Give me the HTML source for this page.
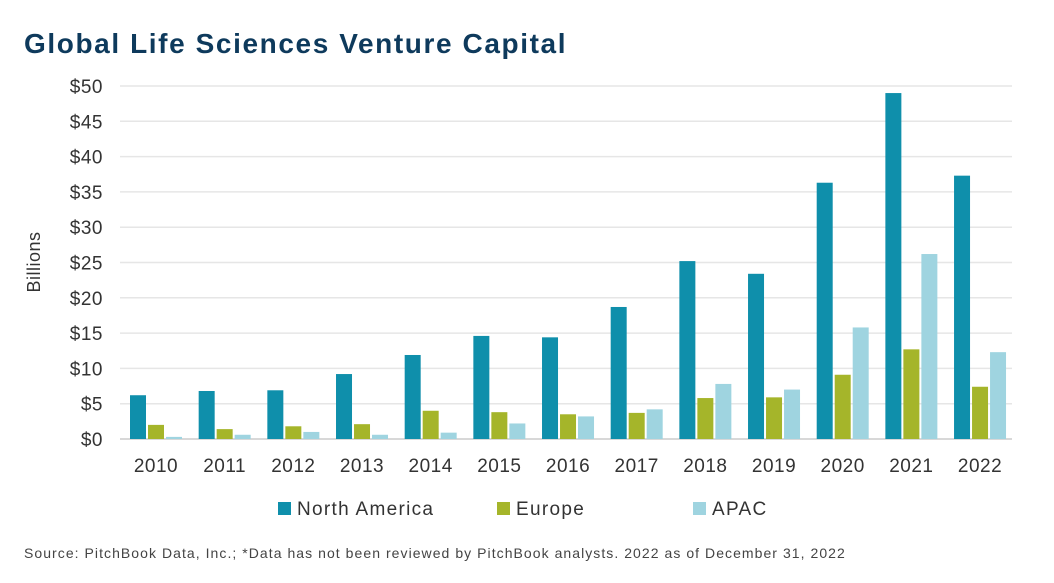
<!DOCTYPE html>
<html><head><meta charset="utf-8"><style>
body{margin:0;background:#fff;width:1054px;height:578px;overflow:hidden;font-family:"Liberation Sans",sans-serif}
</style></head><body>
<svg width="1054" height="578">
<text x="24" y="53" font-size="28" font-weight="bold" fill="#0e3a5c" letter-spacing="1.6">Global Life Sciences Venture Capital</text>
<g id="grid"></g><g id="bars"></g><g id="xl"></g>
<text transform="translate(40,262) rotate(-90)" text-anchor="middle" font-size="18" fill="#333" letter-spacing="0.5">Billions</text>
<g letter-spacing="1.3">
<rect x="278" y="502" width="13" height="13" fill="#0f8fab"/><text x="297" y="515" font-size="19" fill="#333">North America</text>
<rect x="497" y="502" width="13" height="13" fill="#a5b52a"/><text x="516" y="515" font-size="19" fill="#333">Europe</text>
<rect x="693" y="502" width="13" height="13" fill="#9fd4e0"/><text x="712" y="515" font-size="19" fill="#333">APAC</text>
</g>
<text x="24" y="558" font-size="14" fill="#444" letter-spacing="1.05">Source: PitchBook Data, Inc.; *Data has not been reviewed by PitchBook analysts. 2022 as of December 31, 2022</text>
</svg>
<script>
const years=["2010","2011","2012","2013","2014","2015","2016","2017","2018","2019","2020","2021","2022"];
const northAmerica=[6.2,6.8,6.9,9.2,11.9,14.6,14.4,18.7,25.2,23.4,36.3,49,37.3];
const europe=[2.0,1.4,1.8,2.1,4.0,3.8,3.5,3.7,5.8,5.9,9.1,12.7,7.4];
const apac=[0.3,0.6,1.0,0.6,0.9,2.2,3.2,4.2,7.8,7.0,15.8,26.2,12.3];
const yTicks=[0,5,10,15,20,25,30,35,40,45,50];
const NS="http://www.w3.org/2000/svg";
const y=v=>439-v*(439-86)/50;
const xc=i=>156+i*68.67;
const grid=document.getElementById('grid'),bars=document.getElementById('bars'),xl=document.getElementById('xl');
function mk(tag,attrs,parent){const e=document.createElementNS(NS,tag);for(const k in attrs)e.setAttribute(k,attrs[k]);parent.appendChild(e);return e;}
yTicks.forEach(t=>{
 const l=mk('line',{x1:120,x2:1012,y1:y(t),y2:y(t),stroke:t===0?'#ccc':'#e6e6e6','stroke-width':1.5},grid);
 
 
 const tx=mk('text',{x:103,y:y(t)+7,'text-anchor':'end','font-size':19,fill:'#333','letter-spacing':0.5},grid);
 tx.textContent='$'+t;
 
 
});
const series=[[northAmerica,'#0f8fab','north-america'],[europe,'#a5b52a','europe'],[apac,'#9fd4e0','apac']];
years.forEach((yr,i)=>{
 series.forEach((s,j)=>{
  const x=xc(i)-26+j*18;
  const r=mk('rect',{x:x,y:y(s[0][i]),width:16,height:439-y(s[0][i]),fill:s[1]},bars);
  
  
 });
 const t=mk('text',{x:xc(i),y:472,'text-anchor':'middle','font-size':19,fill:'#333','letter-spacing':0.5},xl);
 t.textContent=yr;
 
 
});
</script>
</body></html>
